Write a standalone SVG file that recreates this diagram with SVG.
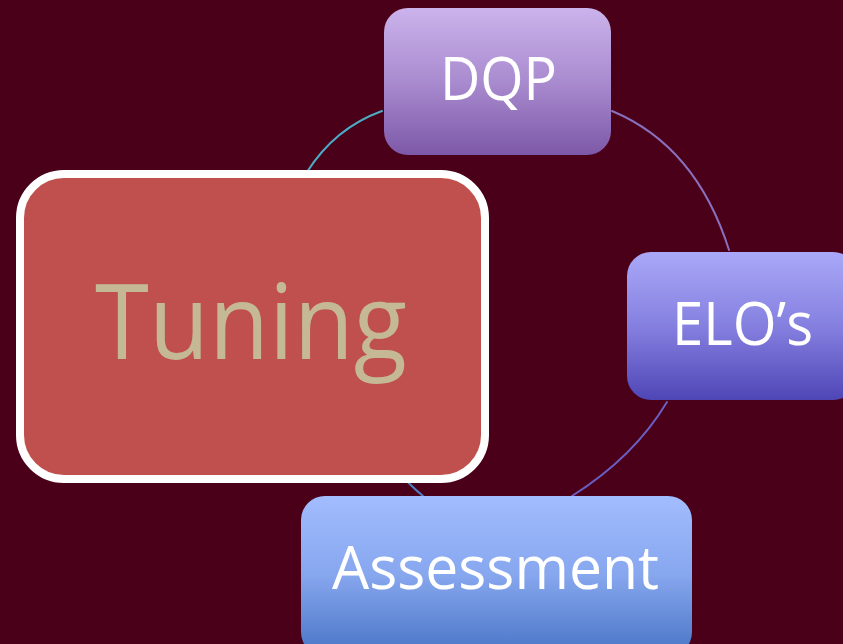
<svg xmlns="http://www.w3.org/2000/svg" width="843" height="644" viewBox="0 0 843 644">
  <defs>
    <linearGradient id="gDqp" x1="0" y1="0" x2="0" y2="1">
      <stop offset="0" stop-color="#cbb3ec"/>
      <stop offset="0.5" stop-color="#a98bcf"/>
      <stop offset="1" stop-color="#7d58a8"/>
    </linearGradient>
    <linearGradient id="gElo" x1="0" y1="0" x2="0" y2="1">
      <stop offset="0" stop-color="#aaa8f8"/>
      <stop offset="0.5" stop-color="#8580e0"/>
      <stop offset="1" stop-color="#4f46b6"/>
    </linearGradient>
    <linearGradient id="gAss" x1="0" y1="0" x2="0" y2="1">
      <stop offset="0" stop-color="#a2bdff"/>
      <stop offset="0.5" stop-color="#86a6ee"/>
      <stop offset="1" stop-color="#4874c6"/>
    </linearGradient>
    <style>
      .lbl { font-family: "Open Sans", "Noto Sans", "Liberation Sans", sans-serif; fill: #ffffff; text-anchor: middle; }
      .arc { fill: none; stroke-width: 2; stroke-linecap: round; }
    </style>
  </defs>

  <rect width="843" height="644" fill="#4a0019"/>

  <!-- cycle arcs between the boxes -->
  <g id="connectors">
    <path class="arc" stroke="#4bacc6" d="M307,172 Q335,128 382,111"/>
    <path class="arc" stroke="#8a6fbd" d="M612,111 Q696,146 729,250"/>
    <path class="arc" stroke="#6a5fc4" d="M667,402 Q634,457 572,496"/>
    <path class="arc" stroke="#4f7fc2" d="M400,474 Q412,487 423,496"/>
  </g>

  <g id="dqp">
    <rect x="384" y="8" width="227" height="147" rx="24" fill="url(#gDqp)"/>
    <text class="lbl" x="498.5" y="100" font-size="60" textLength="117" lengthAdjust="spacingAndGlyphs">DQP</text>
  </g>

  <g id="elos">
    <rect x="627" y="252" width="230" height="148" rx="24" fill="url(#gElo)"/>
    <text class="lbl" x="742.5" y="345" font-size="60" textLength="141" lengthAdjust="spacingAndGlyphs">ELO’s</text>
  </g>

  <g id="assessment">
    <rect x="301" y="496" width="391" height="160" rx="24" fill="url(#gAss)"/>
    <text class="lbl" x="495.5" y="589" font-size="61" textLength="327" lengthAdjust="spacingAndGlyphs">Assessment</text>
  </g>

  <g id="tuning">
    <rect x="20" y="174" width="465" height="305" rx="44" fill="#c0504d" stroke="#ffffff" stroke-width="8"/>
    <text class="lbl" x="251" y="359" font-size="104" fill="#c4b994" style="fill:#c4b994" textLength="312" lengthAdjust="spacingAndGlyphs">Tuning</text>
  </g>
</svg>
